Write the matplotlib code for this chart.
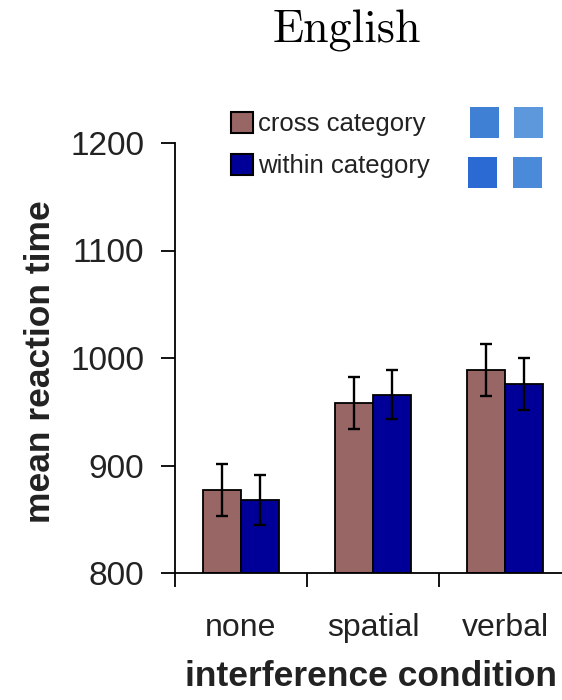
import numpy as np
import matplotlib.pyplot as plt
from matplotlib.patches import Patch, Rectangle

# data
conditions = ["none", "spatial", "verbal"]
series = ["cross category", "within category"]
cross_rt = [877, 958, 989]
within_rt = [868, 966, 976]
cross_err = [24, 24, 24]
within_err = [23, 23, 24]
yticks = [800, 900, 1000, 1100, 1200]

colors = ["#996666", "#000099"]

plt.rcParams["font.family"] = ["Liberation Sans", "DejaVu Sans"]

fig = plt.figure(figsize=(5.62, 7.0), dpi=100)
W, H = 562, 700
# axes spans x 175..571 px (clipped at right edge), y 143..573 px
ax = fig.add_axes([175 / W, 1 - 573 / H, 396 / W, 430 / H])

x = np.arange(len(conditions))
bw = 0.285
for i, (vals, errs) in enumerate([(cross_rt, cross_err), (within_rt, within_err)]):
    pos = x + (i - 0.5) * bw
    ax.bar(pos, np.array(vals) - 800, bottom=800, width=bw, color=colors[i],
           edgecolor="black", linewidth=1.3, zorder=2)
    ax.errorbar(pos, vals, yerr=errs, fmt="none", ecolor="black",
                elinewidth=1.7, capsize=4, capthick=1.7, zorder=3)

ax.set_xlim(-0.5, 2.5)
ax.set_ylim(800, 1200)
ax.set_yticks(yticks)
ax.set_yticklabels([str(t) for t in yticks], fontsize=24, color="#222222")

# boundary ticks on x, labels at centers
ax.set_xticks([-0.5, 0.5, 1.5, 2.5])
ax.set_xticklabels([])
ax.set_xticks(x, minor=True)
ax.set_xticklabels(conditions, minor=True, fontsize=23, color="#222222")
ax.tick_params(axis="x", which="major", length=10, width=1.3, direction="out")
ax.tick_params(axis="x", which="minor", length=0, pad=29)
ax.tick_params(axis="y", length=10, width=1.3, direction="out", pad=12)

for s in ["top", "right"]:
    ax.spines[s].set_visible(False)
for s in ["left", "bottom"]:
    ax.spines[s].set_linewidth(1.3)

fig.text(40 / W, 1 - 362 / H, "mean reaction time", fontsize=25.5,
         fontweight="bold", color="#222222", ha="center", va="center",
         rotation=90)
fig.text(371 / W, 1 - 677 / H, "interference condition", fontsize=25.5,
         fontweight="bold", color="#222222", ha="center", va="center")

fig.text(347 / W, 1 - 31 / H, "English", fontsize=33, family="cmr10",
         ha="center", va="center")

handles = [Patch(facecolor=colors[0], edgecolor="black", linewidth=1.5),
           Patch(facecolor=colors[1], edgecolor="black", linewidth=1.5)]
fig.legend(handles, series, loc="upper left",
           bbox_to_anchor=(231 / W, 1 - 112 / H), bbox_transform=fig.transFigure,
           frameon=False, fontsize=18.5, handlelength=0.86, handleheight=0.86,
           handletextpad=0.2, labelspacing=0.7, borderpad=0, borderaxespad=0,
           labelcolor="#222222")

# decorative blue squares at top right
squares = [(470, 107, "#3f80d4"), (514, 107, "#5d98dc"),
           (468, 157, "#2b6ad2"), (513, 157, "#4a8ad8")]
for sx, sy, c in squares:
    fig.patches.append(Rectangle((sx / W, 1 - (sy + 31) / H), 29 / W, 31 / H,
                                 transform=fig.transFigure, facecolor=c,
                                 edgecolor="none"))

fig.savefig("out.png", dpi=100)
